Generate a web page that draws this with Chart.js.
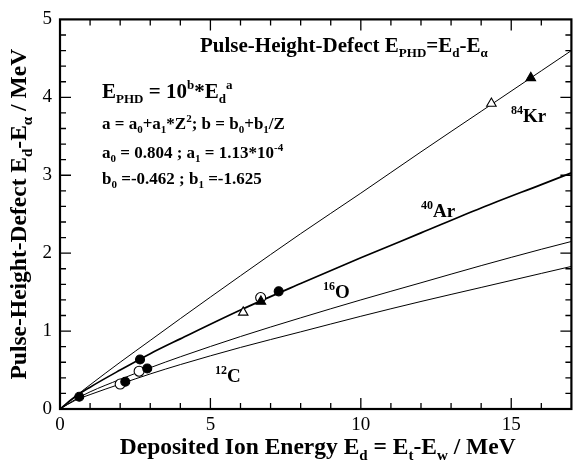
<!DOCTYPE html>
<html>
<head>
<meta charset="utf-8">
<script src="https://cdn.jsdelivr.net/npm/chart.js@4.4.0/dist/chart.umd.min.js"></script>
<style>
  html, body { margin: 0; padding: 0; background: #fff; }
</style>
</head>
<body>
<canvas id="phdChart" width="578" height="463"></canvas>
<script>
// fit curves E_PHD(E_d) for each ion, sampled along the energy axis
let curveE  = [0, 0.5, 1, 2, 3, 4, 6, 8, 10, 12, 14, 16, 17];
let krPHD   = [0, 0.16, 0.31, 0.60, 0.88, 1.16, 1.71, 2.25, 2.77, 3.30, 3.82, 4.34, 4.60];
let arPHD   = [0, 0.157, 0.28, 0.50, 0.71, 0.90, 1.27, 1.61, 1.94, 2.26, 2.58, 2.88, 3.03];
let oPHD    = [0, 0.12, 0.22, 0.38, 0.53, 0.67, 0.93, 1.17, 1.40, 1.62, 1.84, 2.05, 2.15];
let cPHD    = [0, 0.11, 0.185, 0.32, 0.45, 0.57, 0.79, 0.99, 1.19, 1.38, 1.56, 1.74, 1.83];

// measured points, grouped by marker
let filledCircleE   = [0.64, 2.17, 2.66, 2.90, 7.27];
let filledCirclePHD = [0.157, 0.35, 0.635, 0.52, 1.51];
let openCircleE     = [2.0, 2.63, 6.67];
let openCirclePHD   = [0.32, 0.485, 1.43];
let openTriangleE   = [6.09, 14.34];
let openTrianglePHD = [1.24, 3.92];
let filledTriangleE   = [6.68, 15.65];
let filledTrianglePHD = [1.38, 4.25];

let xTicks = [0, 5, 10, 15];
let yTicks = [0, 1, 2, 3, 4, 5];

const serif = '"Liberation Serif", "Times New Roman", serif';

function pts(xs, ys) {
    return xs.map((v, i) => ({ x: v, y: ys[i] }));
}

function curve(ys, width) {
    return {
        data: pts(curveE, ys),
        showLine: true,
        borderColor: '#000',
        borderWidth: width,
        pointRadius: 0,
        cubicInterpolationMode: 'monotone',
        order: 10
    };
}

function marker(xs, ys, style, filled, r, order) {
    return {
        data: pts(xs, ys),
        showLine: false,
        pointStyle: style,
        pointRadius: r,
        pointBackgroundColor: filled ? '#000' : '#fff',
        pointBorderColor: '#000',
        pointBorderWidth: 1.1,
        order: order
    };
}

// text with sub/superscripts: parts are [text, '' | 'sub' | 'sup']
function drawRich(ctx, parts, x, y, size, align) {
    const fontFor = k => 'bold ' + (k ? Math.round(size * 0.62) : size) + 'px ' + serif;
    let w = 0;
    parts.forEach(([t, k]) => { ctx.font = fontFor(k); w += ctx.measureText(t).width; });
    let cx = align === 'center' ? x - w / 2 : x;
    ctx.textAlign = 'left';
    ctx.textBaseline = 'alphabetic';
    parts.forEach(([t, k]) => {
        ctx.font = fontFor(k);
        const dy = k === 'sub' ? size * 0.25 : k === 'sup' ? -size * 0.42 : 0;
        ctx.fillText(t, cx, y + dy);
        cx += ctx.measureText(t).width;
    });
}

const framePlugin = {
    id: 'frame',
    afterDraw(chart) {
        const { ctx, chartArea: a, scales: { x, y } } = chart;
        ctx.save();
        ctx.strokeStyle = '#000';
        ctx.fillStyle = '#000';

        // inward ticks on all four sides
        ctx.lineWidth = 1.3;
        ctx.beginPath();
        for (let v = 1; v < 17; v++) {
            const px = x.getPixelForValue(v);
            const len = v % 5 === 0 ? 11 : 6;
            ctx.moveTo(px, a.bottom); ctx.lineTo(px, a.bottom - len);
            ctx.moveTo(px, a.top); ctx.lineTo(px, a.top + len);
        }
        for (let i = 1; i < 25; i++) {
            const py = y.getPixelForValue(i * 0.2);
            const len = i % 5 === 0 ? 11 : 6;
            ctx.moveTo(a.left, py); ctx.lineTo(a.left + len, py);
            ctx.moveTo(a.right, py); ctx.lineTo(a.right - len, py);
        }
        ctx.stroke();

        ctx.lineWidth = 2.2;
        ctx.strokeRect(a.left, a.top, a.right - a.left, a.bottom - a.top);

        // annotations
        drawRich(ctx, [['Pulse-Height-Defect E', ''], ['PHD', 'sub'], ['=E', ''], ['d', 'sub'], ['-E', ''], ['α', 'sub']], 200, 52, 21);
        drawRich(ctx, [['E', ''], ['PHD', 'sub'], [' = 10', ''], ['b', 'sup'], ['*E', ''], ['d', 'sub'], ['a', 'sup']], 102, 98, 21);
        drawRich(ctx, [['a = a', ''], ['0', 'sub'], ['+a', ''], ['1', 'sub'], ['*Z', ''], ['2', 'sup'], ['; b = b', ''], ['0', 'sub'], ['+b', ''], ['1', 'sub'], ['/Z', '']], 102, 129, 17);
        drawRich(ctx, [['a', ''], ['0', 'sub'], [' = 0.804 ; a', ''], ['1', 'sub'], [' = 1.13*10', ''], ['-4', 'sup']], 102, 158, 17);
        drawRich(ctx, [['b', ''], ['0', 'sub'], [' =-0.462 ; b', ''], ['1', 'sub'], [' =-1.625', '']], 102, 184, 17);

        drawRich(ctx, [['84', 'sup'], ['Kr', '']], 511, 122, 19);
        drawRich(ctx, [['40', 'sup'], ['Ar', '']], 421, 217, 19);
        drawRich(ctx, [['16', 'sup'], ['O', '']], 323, 298, 19);
        drawRich(ctx, [['12', 'sup'], ['C', '']], 215, 382, 19);

        // axis titles
        drawRich(ctx, [['Deposited Ion Energy E', ''], ['d', 'sub'], [' = E', ''], ['t', 'sub'], ['-E', ''], ['w', 'sub'], [' / MeV', '']],
            (a.left + a.right) / 2 + 2, 454, 23.5, 'center');
        ctx.translate(26, (a.top + a.bottom) / 2);
        ctx.rotate(-Math.PI / 2);
        drawRich(ctx, [['Pulse-Height-Defect E', ''], ['d', 'sub'], ['-E', ''], ['α', 'sub'], [' / MeV', '']], 0, 0, 23.5, 'center');
        ctx.restore();
    }
};

let ctx = document.getElementById('phdChart').getContext('2d');
let phdChart = new Chart(ctx, {
    type: 'scatter',
    data: {
        datasets: [
            curve(krPHD, 1),
            curve(arPHD, 1.7),
            curve(oPHD, 1),
            curve(cPHD, 1),
            marker(openCircleE, openCirclePHD, 'circle', false, 5, 5),
            marker(openTriangleE, openTrianglePHD, 'triangle', false, 5.5, 4),
            marker(filledCircleE, filledCirclePHD, 'circle', true, 4.5, 2),
            marker(filledTriangleE, filledTrianglePHD, 'triangle', true, 5.5, 1)
        ]
    },
    options: {
        responsive: false,
        animation: false,
        layout: { padding: { top: 17, right: 6, left: 0, bottom: 0 } },
        plugins: {
            legend: { display: false },
            tooltip: { enabled: false },
            title: { display: false }
        },
        scales: {
            x: {
                type: 'linear',
                min: 0,
                max: 17,
                grid: { display: false, drawTicks: false },
                border: { display: false },
                afterFit: s => { s.height = 54; },
                afterBuildTicks: s => { s.ticks = xTicks.map(v => ({ value: v })); },
                ticks: {
                    padding: 5,
                    color: '#000',
                    font: { family: serif, size: 19 }
                }
            },
            y: {
                type: 'linear',
                min: 0,
                max: 5,
                grid: { display: false, drawTicks: false },
                border: { display: false },
                afterFit: s => { s.width = 60; },
                afterBuildTicks: s => { s.ticks = yTicks.map(v => ({ value: v })); },
                ticks: {
                    padding: 8,
                    color: '#000',
                    font: { family: serif, size: 19 }
                }
            }
        }
    },
    plugins: [framePlugin]
});
</script>
</body>
</html>
